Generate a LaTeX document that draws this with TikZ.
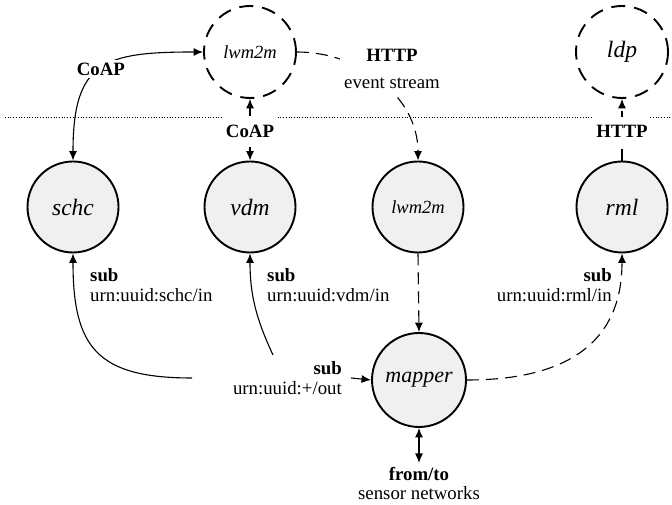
\documentclass[tikz,border=0pt]{standalone}
\usepackage{fontspec}
\setmainfont{Liberation Serif}
\usetikzlibrary{arrows.meta}
\begin{document}
\begin{tikzpicture}[x=1pt,y=1pt,
  font=\fontsize{18.8}{19.5}\selectfont,
  >={Latex[length=9.5pt,width=8pt]},
  proc/.style={circle, draw, line width=1.9pt, fill=black!6, minimum size=91pt, inner sep=0pt,
    font=\fontsize{23.5}{26}\selectfont\itshape},
  extn/.style={circle, draw, line width=1.9pt, dash pattern=on 14pt off 9pt, minimum size=92pt, inner sep=0pt,
    font=\fontsize{23.5}{26}\selectfont\itshape},
  lbl/.style={fill=white, inner xsep=2pt, inner ysep=3pt},
  txt/.style={inner sep=4pt},
  conn/.style={line width=1.1pt},
  dsh/.style={dash pattern=on 12pt off 7pt}
]
\useasboundingbox (0,0) rectangle (672,505);
\draw[line width=0.7pt, dotted] (5,388) -- (672,388);

\node[proc] (schc) at (73,298) {schc};
\node[proc] (vdm) at (250,298) {vdm};
\node[proc, font=\fontsize{18.5}{20}\selectfont\itshape] (lw2) at (418,298) {lwm2m};
\node[proc] (rml) at (622,298) {rml};
\node[proc, minimum size=94pt, font=\fontsize{22}{24}\selectfont\itshape] (mapper) at (419,125) {mapper};
\node[extn, font=\fontsize{18.5}{20}\selectfont\itshape] (lw1) at (250,453) {lwm2m};
\node[extn] (ldp) at (622,453) {ldp};

\draw[conn, <->] (schc.north) to[out=90,in=180,looseness=1.5] node[lbl, inner sep=3pt]{\textbf{CoAP}} (lw1.west);
\draw[conn, <->] (vdm.north) -- node[lbl, inner ysep=9pt, yshift=-2pt]{\textbf{CoAP}} (lw1.south);
\draw[conn, dsh, ->] (lw1.east) to[out=0,in=90] (lw2.north);
\node[lbl, inner sep=4pt, align=center] (es) at (392,436) {\textbf{HTTP}\\[8pt]event stream};
\draw[conn, dsh, ->] (rml.north) -- node[lbl, inner ysep=9pt, yshift=-2pt]{\textbf{HTTP}} (ldp.south);
\draw[conn, dsh, ->] (lw2.south) -- (mapper.north);
\draw[conn, dsh, ->] (mapper.east) to[out=0,in=-90,looseness=1.2] (rml.south);

\coordinate (o1) at (192,127);
\coordinate (o2) at (273,150);
\draw[conn, ->] (o1) to[out=180,in=-90,looseness=1.4] (schc.south);
\draw[conn, ->] (o2) to[out=115,in=-90] (vdm.south);

\node[txt, anchor=west, align=left] (schcin) at (86,220) {\textbf{sub}\\urn:uuid:schc/in};
\node[txt, anchor=west, align=left] (vdmin) at (263,220) {\textbf{sub}\\urn:uuid:vdm/in};
\node[txt, anchor=east, align=right] (rmlin) at (616,220) {\textbf{sub}\\urn:uuid:rml/in};
\node[txt, anchor=east, align=right] (outl) at (346,127) {\textbf{sub}\\urn:uuid:+/out};
\draw[conn, ->] ([xshift=5pt]outl.east) -- (mapper.west);
\node[txt, anchor=north, align=center] (ft) at (419,42) {\textbf{from/to}\\sensor networks};
\draw[conn, <->] (mapper.south) -- (ft.north);
\end{tikzpicture}
\end{document}
